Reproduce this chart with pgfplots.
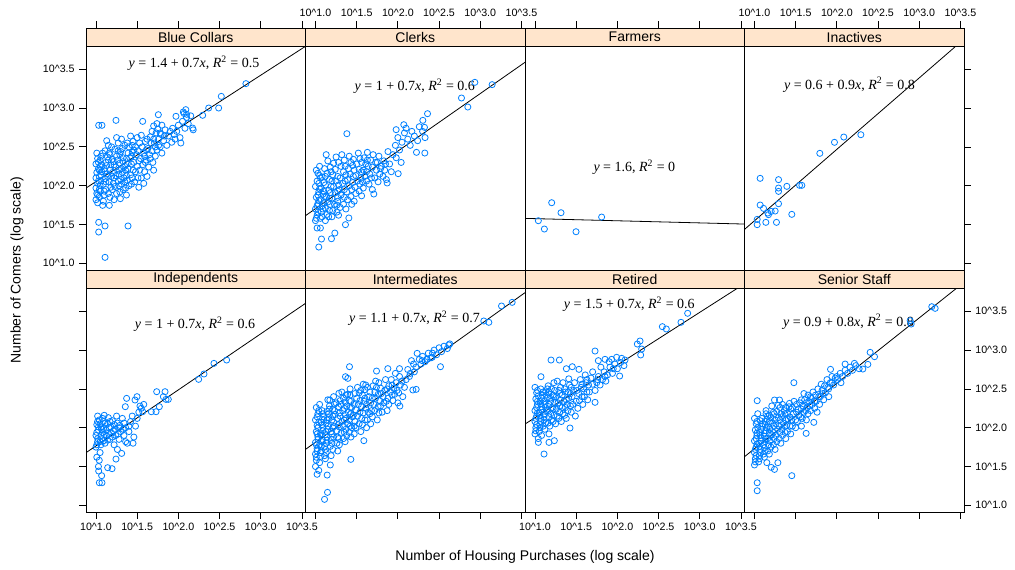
\documentclass[border=0pt]{standalone}
\usepackage{fontspec}
\setmainfont{Liberation Sans}
\newfontfamily\tms{Liberation Serif}
\usepackage{pgfplots}
\pgfplotsset{compat=1.18}
\definecolor{ptcol}{HTML}{0080FF}
\definecolor{stripcol}{HTML}{FFE5CC}

\pgfplotsset{
  common/.style={width=164.625pt, scale only axis, anchor=south west,
    xmin=0.879, xmax=3.543,
    tick align=outside, major tick length=5pt,
    axis line style={line width=0.6pt},
    tick style={black, line width=0.6pt},
    ticklabel style={font=\fontsize{8}{9.5}\selectfont},
    xticklabels={,,,,,}, yticklabels={,,,,,}},
  panel/.style={common, height=168pt, ymin=0.914, ymax=3.80,
    xtick={1,1.5,2,2.5,3,3.5}, ytick={1,1.5,2,2.5,3,3.5}},
  strip/.style={common, height=13.5pt, ymin=0, ymax=1, ytick=\empty, xtick=\empty,
    axis background/.style={fill=stripcol}},
  topticks/.style={xtick={1,1.5,2,2.5,3,3.5}, xtick pos=right, xticklabel pos=right},
  top/.style={xtick=\empty},
  bot/.style={xtick pos=left, xticklabel pos=left},
  noy/.style={ytick=\empty},
  ly/.style={ytick pos=left, yticklabel pos=left},
  ry/.style={ytick pos=right, yticklabel pos=right},
  xlab/.style={xticklabels={10\textasciicircum1.0,10\textasciicircum1.5,10\textasciicircum2.0,10\textasciicircum2.5,10\textasciicircum3.0,10\textasciicircum3.5}},
  ylab/.style={yticklabels={10\textasciicircum1.0,10\textasciicircum1.5,10\textasciicircum2.0,10\textasciicircum2.5,10\textasciicircum3.0,10\textasciicircum3.5}},
  pts/.style={only marks, mark=o, mark size=2.3pt, color=ptcol, mark options={line width=0.6pt}},
  fit/.style={black, line width=0.6pt, no marks},
}
\newcommand{\eq}[1]{\tms\fontsize{10.5}{12}\selectfont #1}
\newcommand{\striplab}[1]{\node[font=\fontsize{10.5}{12}\selectfont, inner sep=0pt] at (axis description cs:0.5,0.5) {#1};}

\begin{document}
\begin{tikzpicture}
\useasboundingbox (0,0) rectangle (761.25pt,426.75pt);

% ---- top row ----
\begin{axis}[panel, top, ly, ylab, at={(64.5pt,224.25pt)}]
  \addplot[pts] coordinates {
    (1.00,1.82)(1.01,1.90)(1.00,1.97)(1.02,2.03)(1.00,2.10)(1.01,2.17)(1.03,2.22)(1.00,2.28)(1.02,2.35)(1.01,2.42)
    (1.04,1.86)(1.05,2.00)(1.04,2.12)(1.05,2.25)(1.06,2.38)(1.02,1.78)(1.05,1.93)(1.06,2.06)(1.07,2.18)(1.03,2.30)
    (1.09,1.80)(1.10,1.88)(1.12,1.95)(1.09,2.02)(1.11,2.09)(1.13,2.15)(1.10,2.22)(1.12,2.30)(1.14,2.37)(1.11,2.45)
    (1.15,2.52)(1.17,1.85)(1.18,1.98)(1.16,2.05)(1.19,2.12)(1.17,2.20)(1.18,2.27)(1.20,2.34)(1.16,2.42)(1.19,2.50)(1.13,2.58)
    (1.22,1.82)(1.25,1.90)(1.23,1.99)(1.27,2.06)(1.24,2.13)(1.28,2.20)(1.22,2.27)(1.26,2.33)(1.29,2.40)(1.23,2.47)
    (1.27,2.55)(1.31,2.60)(1.33,1.95)(1.31,2.02)(1.34,2.10)(1.32,2.17)(1.35,2.25)(1.33,2.31)(1.30,2.44)(1.35,2.52)(1.25,2.62)
    (1.37,1.88)(1.40,2.00)(1.38,2.07)(1.42,2.14)(1.39,2.22)(1.43,2.28)(1.41,2.36)(1.44,2.43)(1.40,2.50)(1.45,2.57)
    (1.42,2.64)(1.47,2.05)(1.48,2.18)(1.46,2.30)(1.49,2.40)(1.48,2.50)(1.50,2.62)
    (1.52,1.98)(1.55,2.10)(1.53,2.20)(1.57,2.27)(1.54,2.35)(1.58,2.42)(1.56,2.50)(1.60,2.57)(1.55,2.65)(1.62,2.12)
    (1.64,2.24)(1.61,2.33)(1.65,2.40)(1.63,2.48)(1.67,2.55)(1.66,2.63)(1.69,2.30)(1.68,2.70)(1.58,2.03)
    (1.72,2.38)(1.74,2.46)(1.71,2.55)(1.76,2.60)(1.73,2.68)(1.78,2.50)(1.80,2.42)(1.82,2.58)(1.79,2.66)(1.84,2.72)
    (1.86,2.52)(1.88,2.64)(1.75,2.73)(1.70,2.20)(1.70,2.77)(1.74,2.80)(1.80,2.78)
    (1.92,2.56)(1.95,2.66)(1.93,2.74)(1.98,2.70)(2.02,2.62)(2.00,2.78)(2.05,2.83)(2.08,2.74)(2.10,2.88)(2.07,2.93)
    (2.12,2.80)(2.15,2.90)(2.03,2.55)(2.18,2.72)(2.06,2.95)(2.09,2.98)(2.10,2.92)
    (1.02,1.88)(1.04,1.95)(1.03,2.06)(1.06,2.14)(1.04,2.20)(1.07,2.27)(1.05,2.33)(1.08,2.42)(1.10,1.93)(1.12,2.05)
    (1.14,2.12)(1.11,2.19)(1.13,2.26)(1.15,2.33)(1.17,2.40)(1.15,1.90)(1.20,1.95)(1.21,2.03)(1.22,2.10)(1.20,2.17)
    (1.24,2.24)(1.21,2.31)(1.25,2.38)(1.27,2.45)(1.29,1.92)(1.28,2.00)(1.30,2.08)(1.28,2.15)(1.31,2.22)(1.29,2.29)
    (1.33,2.36)(1.32,2.48)(1.36,1.97)(1.35,2.05)(1.37,2.13)(1.36,2.20)(1.38,2.28)(1.37,2.35)(1.39,2.42)(1.38,2.55)
    (1.43,2.02)(1.44,2.10)(1.45,2.20)(1.43,2.38)(1.46,2.46)(1.44,2.52)(1.51,2.10)(1.50,2.25)(1.52,2.32)(1.51,2.45)
    (1.53,2.55)(1.59,2.18)(1.60,2.30)(1.59,2.38)(1.61,2.46)(1.62,2.60)(1.66,2.35)(1.68,2.45)(1.70,2.60)(1.72,2.50)
    (1.76,2.52)(1.78,2.68)(1.83,2.64)(1.90,2.70)(1.96,2.60)
    (1.033,2.778)(1.073,2.778)(1.243,2.842)(1.567,2.829)(1.757,2.915)(1.971,2.894)(2.173,2.743)(2.295,2.907)
    (2.368,3.001)(2.489,3.001)(2.521,3.151)(2.820,3.315)(1.033,1.528)(1.110,1.481)(1.033,1.403)(1.389,1.481)
    (1.110,1.077)(1.081,1.747)(1.162,1.747)(1.296,1.833)
  };
  \addplot[fit] coordinates {(0.879,1.970)(3.543,3.796)};
  \node at (axis cs:2.19,3.58) {\eq{\textit{y} = 1.4 + 0.7\textit{x}, \textit{R}\textsuperscript{2} = 0.5}};
\end{axis}

\begin{axis}[panel, top, noy, at={(229.125pt,224.25pt)}]
  \addplot[pts] coordinates {
    (1.00,1.55)(1.02,1.62)(1.00,1.70)(1.03,1.77)(1.01,1.85)(1.04,1.92)(1.00,1.99)(1.02,2.06)(1.05,2.13)(1.01,2.20)
    (1.06,1.58)(1.07,1.66)(1.08,1.74)(1.06,1.82)(1.09,1.89)(1.07,1.97)(1.10,2.04)(1.08,2.11)(1.05,2.25)
    (1.12,1.55)(1.14,1.63)(1.12,1.71)(1.15,1.79)(1.13,1.86)(1.16,1.94)(1.12,2.01)(1.17,2.08)(1.14,2.16)(1.18,2.24)
    (1.15,2.32)(1.13,2.40)(1.20,1.60)(1.21,1.68)(1.23,1.76)(1.20,1.84)(1.24,1.91)(1.22,1.99)(1.25,2.06)(1.21,2.14)
    (1.24,2.21)(1.22,2.29)(1.25,2.37)
    (1.28,1.62)(1.30,1.72)(1.27,1.80)(1.31,1.88)(1.29,1.95)(1.33,2.03)(1.30,2.10)(1.34,2.18)(1.31,2.25)(1.35,2.33)
    (1.32,2.40)(1.37,1.70)(1.39,1.82)(1.38,1.92)(1.41,2.00)(1.39,2.08)(1.42,2.15)(1.40,2.22)(1.43,2.30)(1.41,2.38)
    (1.44,1.76)(1.45,2.26)
    (1.47,1.80)(1.49,1.90)(1.48,1.98)(1.51,2.06)(1.49,2.13)(1.53,2.21)(1.50,2.28)(1.54,2.35)(1.52,2.42)(1.56,1.87)
    (1.58,1.97)(1.57,2.05)(1.60,2.12)(1.58,2.20)(1.61,2.28)(1.59,2.36)(1.63,2.43)(1.65,2.02)(1.66,2.15)(1.64,2.25)
    (1.67,2.33)(1.69,1.95)(1.70,2.40)
    (1.72,2.10)(1.74,2.20)(1.73,2.30)(1.76,2.05)(1.78,2.15)(1.80,2.25)(1.77,2.38)(1.82,2.12)(1.84,2.20)(1.86,2.08)
    (1.83,2.32)(1.88,2.44)(1.90,2.28)(1.92,2.18)(1.94,2.40)
    (1.97,2.52)(2.00,2.62)(2.02,2.46)(2.05,2.56)(2.08,2.68)(2.10,2.74)(2.12,2.60)(2.15,2.52)(2.17,2.70)(2.20,2.64)
    (2.24,2.58)(2.26,2.76)(2.30,2.70)(2.33,2.62)(1.98,2.36)(2.04,2.30)
    (1.01,1.58)(1.03,1.66)(1.02,1.74)(1.04,1.81)(1.03,1.88)(1.05,1.96)(1.04,2.03)(1.06,2.10)(1.03,2.16)(1.08,1.60)
    (1.09,1.70)(1.10,1.78)(1.11,1.86)(1.10,1.93)(1.12,2.12)(1.11,2.22)(1.16,1.60)(1.17,1.68)(1.18,1.76)(1.17,1.84)
    (1.18,1.91)(1.19,1.99)(1.20,2.06)(1.19,2.18)(1.26,1.66)(1.26,1.75)(1.27,1.85)(1.27,1.93)(1.28,2.01)(1.27,2.12)
    (1.28,2.30)(1.34,1.76)(1.35,1.85)(1.35,1.95)(1.36,2.06)(1.37,2.14)(1.36,2.25)(1.43,1.86)(1.44,1.95)(1.45,2.04)
    (1.46,2.12)(1.47,2.20)(1.46,2.34)(1.53,1.93)(1.54,2.02)(1.55,2.10)(1.56,2.18)(1.56,2.30)(1.62,2.06)(1.62,2.18)
    (1.63,2.33)(1.68,2.10)(1.69,2.24)(1.75,2.30)(1.79,2.22)(1.85,2.28)
    (1.381,2.670)(2.934,3.332)(3.144,3.302)(2.772,3.130)(2.849,3.014)(2.360,2.928)(2.303,2.842)(2.323,2.752)
    (2.072,2.786)(1.979,2.722)(2.226,2.430)(2.327,2.421)(2.004,2.155)(1.870,2.035)(1.708,1.893)
    (1.040,1.210)(1.073,1.313)(1.194,1.317)(1.020,1.455)(1.060,1.455)(1.235,1.390)(1.364,1.498)(1.405,1.584)
  };
  \addplot[fit] coordinates {(0.879,1.614)(3.543,3.590)};
  \node at (axis cs:2.206,3.28) {\eq{\textit{y} = 1 + 0.7\textit{x}, \textit{R}\textsuperscript{2} = 0.6}};
\end{axis}

\begin{axis}[panel, top, noy, at={(393.75pt,224.25pt)}]
  \addplot[pts] coordinates {
    (1.041,1.549)(1.203,1.781)(1.316,1.652)(1.114,1.442)(1.498,1.407)(1.809,1.596)
  };
  \addplot[fit] coordinates {(0.879,1.579)(3.543,1.506)};
  \node at (axis cs:2.206,2.236) {\eq{\textit{y} = 1.6, \textit{R}\textsuperscript{2} = 0}};
\end{axis}

\begin{axis}[panel, top, ry, at={(558.375pt,224.25pt)}]
  \addplot[pts] coordinates {
    (1.069,2.095)(1.292,2.078)(1.292,1.970)(1.292,1.927)(1.393,1.992)(1.547,2.005)(1.575,2.005)(1.793,2.417)
    (1.971,2.559)(2.084,2.627)(2.291,2.657)(1.069,1.751)(1.110,1.708)(1.203,1.669)(1.162,1.648)(1.170,1.627)
    (1.251,1.674)(1.292,1.768)(1.453,1.631)(1.033,1.566)(1.033,1.498)(1.138,1.528)(1.267,1.528)
  };
  \addplot[fit] coordinates {(0.879,1.437)(3.543,3.889)};
  \node at (axis cs:2.153,3.302) {\eq{\textit{y} = 0.6 + 0.9\textit{x}, \textit{R}\textsuperscript{2} = 0.8}};
\end{axis}

% ---- bottom row ----
\begin{axis}[panel, bot, xlab, ly, at={(64.5pt,42.75pt)}]
  \addplot[pts] coordinates {
    (1.00,1.75)(1.02,1.82)(1.00,1.90)(1.03,1.97)(1.01,2.04)(1.04,2.10)(1.02,2.15)(1.06,1.78)(1.07,1.86)(1.08,1.94)
    (1.06,2.01)(1.09,2.08)(1.05,1.68)(1.01,1.62)(1.11,1.80)(1.13,1.89)(1.12,1.97)(1.14,2.05)(1.15,2.13)(1.17,1.85)
    (1.19,1.93)(1.18,2.01)(1.20,2.09)(1.22,1.78)(1.24,1.90)(1.23,1.98)(1.26,2.06)(1.28,1.85)(1.30,1.95)(1.29,2.03)
    (1.32,2.12)(1.34,1.90)(1.36,2.00)(1.38,1.80)(1.40,1.95)(1.42,2.08)(1.44,2.15)(1.46,1.88)(1.48,2.02)(1.50,2.12)
    (1.52,2.20)(1.55,2.25)(1.58,2.30)(1.25,2.15)(1.10,2.16)(1.04,1.58)(1.03,1.50)(1.36,1.82)(1.26,1.72)(1.45,1.80)
    (1.01,1.78)(1.02,1.86)(1.01,1.94)(1.03,2.01)(1.02,2.08)(1.05,1.82)(1.06,1.90)(1.07,1.98)(1.05,2.05)(1.08,2.12)
    (1.09,1.83)(1.10,1.91)(1.09,1.99)(1.11,2.06)(1.14,1.84)(1.15,1.93)(1.16,2.00)(1.17,2.08)(1.20,1.88)(1.21,1.96)
    (1.22,2.04)(1.27,1.92)(1.28,2.00)(1.33,1.98)(1.34,2.06)(1.40,2.02)
    (2.586,2.872)(2.432,2.829)(2.311,2.692)(2.246,2.623)(1.737,2.464)(1.838,2.464)(1.818,2.400)(1.850,2.365)
    (1.878,2.365)(1.769,2.271)(1.672,2.206)(1.729,2.206)(1.567,2.206)(1.534,2.279)(1.498,2.400)(1.474,2.357)
    (1.372,2.378)(1.356,2.271)(1.041,1.291)(1.073,1.291)(1.069,1.382)(1.033,1.442)(1.142,1.485)(1.195,1.472)
    (1.243,1.596)(1.312,1.669)
  };
  \addplot[fit] coordinates {(0.879,1.678)(3.543,3.602)};
  \node at (axis cs:2.202,3.332) {\eq{\textit{y} = 1 + 0.7\textit{x}, \textit{R}\textsuperscript{2} = 0.6}};
\end{axis}

\begin{axis}[panel, bot, noy, at={(229.125pt,42.75pt)}]
  \addplot[pts] coordinates {
    (1.00,1.50)(1.01,1.58)(1.00,1.66)(1.02,1.73)(1.00,1.81)(1.03,1.88)(1.01,1.95)(1.02,2.03)(1.00,2.10)(1.03,2.18)
    (1.01,2.26)(1.05,1.55)(1.06,1.63)(1.07,1.70)(1.05,1.78)(1.08,1.85)(1.06,1.92)(1.09,2.00)(1.07,2.07)(1.10,2.14)
    (1.08,2.22)(1.05,2.30)(1.04,1.45)(1.02,1.40)
    (1.12,1.60)(1.13,1.68)(1.11,1.76)(1.14,1.84)(1.12,1.91)(1.15,1.98)(1.13,2.06)(1.16,2.13)(1.14,2.21)(1.17,2.28)
    (1.15,2.36)(1.19,1.64)(1.21,1.72)(1.20,1.80)(1.22,1.88)(1.19,1.95)(1.23,2.02)(1.20,2.10)(1.24,2.17)(1.21,2.24)
    (1.25,2.32)(1.22,2.40)(1.18,1.52)
    (1.27,1.70)(1.29,1.78)(1.28,1.86)(1.31,1.93)(1.29,2.01)(1.32,2.08)(1.30,2.15)(1.33,2.22)(1.31,2.30)(1.34,2.38)
    (1.32,2.46)(1.36,1.82)(1.38,1.90)(1.37,1.98)(1.39,2.05)(1.37,2.12)(1.40,2.20)(1.38,2.28)(1.41,2.35)(1.39,2.43)
    (1.42,2.50)(1.43,1.88)(1.44,2.00)(1.45,2.14)(1.44,2.26)
    (1.47,1.92)(1.49,2.00)(1.48,2.08)(1.51,2.15)(1.49,2.23)(1.52,2.30)(1.50,2.38)(1.53,2.45)(1.51,2.52)(1.55,1.95)
    (1.57,2.04)(1.56,2.12)(1.58,2.19)(1.56,2.27)(1.59,2.34)(1.57,2.42)(1.60,2.49)(1.58,2.56)(1.62,2.00)(1.63,2.10)
    (1.64,2.20)(1.62,2.30)(1.65,2.40)(1.63,2.52)
    (1.67,2.05)(1.69,2.14)(1.68,2.22)(1.71,2.30)(1.69,2.38)(1.72,2.46)(1.70,2.54)(1.73,2.60)(1.75,2.10)(1.77,2.19)
    (1.76,2.27)(1.78,2.35)(1.76,2.43)(1.79,2.51)(1.77,2.58)(1.81,2.20)(1.83,2.32)(1.82,2.40)(1.84,2.48)(1.85,2.62)
    (1.87,2.22)(1.89,2.30)(1.88,2.38)(1.91,2.46)(1.89,2.54)(1.92,2.62)(1.94,2.35)(1.96,2.43)(1.95,2.51)(1.98,2.58)
    (2.00,2.32)(2.01,2.45)(2.03,2.55)(2.02,2.66)(1.97,2.70)
    (2.08,2.52)(2.10,2.62)(2.12,2.75)(2.15,2.70)(2.19,2.82)(2.22,2.78)(2.26,2.88)(2.30,2.92)(2.33,2.85)(2.37,2.96)
    (2.40,2.90)(2.44,3.00)(2.47,2.94)(2.50,3.03)(2.53,2.98)(2.56,3.05)(2.60,3.02)(2.63,3.08)(2.06,2.40)
    (1.01,1.62)(1.02,1.70)(1.01,1.78)(1.03,1.85)(1.02,1.92)(1.03,2.00)(1.04,2.07)(1.02,2.14)(1.04,2.22)(1.06,1.68)
    (1.07,1.76)(1.08,1.82)(1.07,1.90)(1.09,1.96)(1.08,2.04)(1.10,2.10)(1.09,2.18)(1.11,1.64)(1.12,1.72)(1.13,1.80)
    (1.14,1.88)(1.13,1.95)(1.15,2.02)(1.14,2.10)(1.16,2.18)(1.17,2.24)(1.18,1.76)(1.19,1.85)(1.20,1.92)(1.21,2.00)
    (1.22,2.07)(1.21,2.15)(1.23,2.22)(1.23,2.30)(1.26,1.80)(1.27,1.88)(1.26,1.96)(1.28,2.04)(1.27,2.12)(1.29,2.19)
    (1.28,2.27)(1.30,2.35)(1.34,1.86)(1.35,1.94)(1.34,2.02)(1.35,2.10)(1.36,2.17)(1.35,2.25)(1.36,2.33)(1.37,2.42)
    (1.41,1.94)(1.42,2.02)(1.41,2.10)(1.43,2.18)(1.42,2.26)(1.43,2.34)(1.42,2.42)(1.47,2.02)(1.46,2.16)(1.47,2.30)
    (1.48,2.44)(1.53,2.05)(1.54,2.20)(1.54,2.35)(1.55,2.48)(1.60,2.10)(1.61,2.25)(1.60,2.38)(1.61,2.55)(1.66,2.18)
    (1.67,2.32)(1.66,2.46)(1.72,2.22)(1.73,2.38)(1.74,2.52)(1.79,2.28)(1.80,2.44)(1.86,2.34)(1.87,2.50)(1.93,2.42)
    (1.93,2.55)(1.99,2.48)(2.05,2.60)(2.14,2.66)(2.20,2.72)(2.28,2.82)(2.35,2.88)(2.42,2.96)
    (3.387,3.615)(3.258,3.568)(3.104,3.358)(3.043,3.375)(2.619,3.066)(2.517,2.786)(2.234,2.958)(2.165,2.864)
    (2.295,2.864)(2.355,2.881)(2.416,2.907)(2.020,2.761)(1.878,2.761)(1.741,2.730)(1.413,2.786)(1.364,2.657)
    (1.393,2.636)(1.284,2.443)(1.174,2.357)(2.182,2.486)(2.222,2.494)(2.024,2.279)(1.587,1.833)(1.429,1.592)
    (1.142,1.390)(1.146,1.167)(1.110,1.077)
  };
  \addplot[fit] coordinates {(0.879,1.721)(3.543,3.740)};
  \node at (axis cs:2.202,3.409) {\eq{\textit{y} = 1.1 + 0.7\textit{x}, \textit{R}\textsuperscript{2} = 0.7}};
\end{axis}

\begin{axis}[panel, bot, xlab, noy, at={(393.75pt,42.75pt)}]
  \addplot[pts] coordinates {
    (1.00,1.92)(1.01,2.00)(1.00,2.08)(1.02,2.15)(1.00,2.22)(1.03,2.30)(1.01,2.37)(1.02,2.45)(1.00,2.52)(1.05,1.95)
    (1.06,2.04)(1.07,2.12)(1.05,2.19)(1.08,2.27)(1.06,2.34)(1.09,2.42)(1.07,2.50)(1.04,1.86)(1.08,1.90)
    (1.12,1.98)(1.13,2.06)(1.11,2.14)(1.14,2.22)(1.12,2.30)(1.15,2.38)(1.13,2.46)(1.16,2.54)(1.18,2.02)(1.20,2.10)
    (1.19,2.18)(1.21,2.26)(1.19,2.34)(1.22,2.42)(1.20,2.50)(1.23,2.58)(1.25,2.05)(1.27,2.15)(1.26,2.24)(1.28,2.32)
    (1.26,2.40)(1.29,2.48)(1.27,2.60)(1.17,1.92)
    (1.32,2.08)(1.34,2.18)(1.33,2.26)(1.35,2.34)(1.33,2.42)(1.36,2.50)(1.34,2.58)(1.38,2.12)(1.40,2.22)(1.39,2.30)
    (1.41,2.38)(1.40,2.46)(1.42,2.55)(1.41,2.63)(1.44,2.20)(1.46,2.30)(1.45,2.40)(1.47,2.48)(1.48,2.58)(1.49,2.15)
    (1.52,2.25)(1.54,2.35)(1.53,2.44)(1.56,2.52)(1.55,2.62)(1.58,2.30)(1.60,2.40)(1.59,2.50)(1.62,2.58)(1.61,2.68)
    (1.64,2.36)(1.66,2.46)(1.65,2.55)(1.68,2.64)(1.70,2.72)
    (1.73,2.48)(1.75,2.58)(1.77,2.66)(1.79,2.55)(1.82,2.62)(1.84,2.72)(1.86,2.60)(1.88,2.68)(1.91,2.78)(1.94,2.70)
    (1.97,2.82)(2.00,2.76)(2.04,2.84)(2.08,2.80)(1.80,2.78)(1.90,2.85)
    (1.01,1.96)(1.02,2.04)(1.01,2.12)(1.03,2.19)(1.02,2.26)(1.03,2.34)(1.04,2.41)(1.03,2.48)(1.06,2.00)(1.07,2.08)
    (1.06,2.16)(1.08,2.23)(1.07,2.31)(1.08,2.38)(1.10,2.46)(1.10,2.02)(1.11,2.10)(1.12,2.18)(1.13,2.26)(1.11,2.34)
    (1.14,2.42)(1.15,2.50)(1.16,2.06)(1.17,2.14)(1.16,2.22)(1.17,2.30)(1.18,2.38)(1.17,2.46)(1.22,2.08)(1.23,2.16)
    (1.22,2.24)(1.24,2.32)(1.23,2.40)(1.24,2.48)(1.29,2.12)(1.30,2.20)(1.30,2.28)(1.31,2.36)(1.30,2.44)(1.31,2.52)
    (1.36,2.16)(1.37,2.26)(1.38,2.36)(1.37,2.46)(1.43,2.28)(1.43,2.44)(1.44,2.52)(1.50,2.34)(1.51,2.48)(1.57,2.40)
    (1.57,2.56)(1.63,2.46)(1.63,2.62)(1.70,2.56)(1.76,2.62)(1.85,2.66)(1.95,2.76)
    (2.853,3.474)(2.772,3.358)(2.546,3.302)(2.594,3.272)(2.275,3.117)(2.242,3.078)(2.295,3.014)(2.283,2.937)
    (2.028,2.666)(1.729,2.988)(1.195,2.872)(1.296,2.872)(1.381,2.760)(1.453,2.786)(1.534,2.752)(1.073,2.657)
    (1.110,1.661)(1.170,1.811)(1.235,1.833)(1.041,1.811)(1.425,1.996)(1.729,2.327)
    (1.769,2.864)(1.850,2.881)(1.931,2.881)(1.991,2.907)(2.052,2.894)(2.093,2.872)
  };
  \addplot[fit] coordinates {(0.879,2.047)(3.543,3.855)};
  \node at (axis cs:2.145,3.594) {\eq{\textit{y} = 1.5 + 0.7\textit{x}, \textit{R}\textsuperscript{2} = 0.6}};
\end{axis}

\begin{axis}[panel, bot, ry, ylab, at={(558.375pt,42.75pt)}]
  \addplot[pts] coordinates {
    (1.00,1.52)(1.01,1.60)(1.00,1.68)(1.02,1.75)(1.00,1.83)(1.03,1.90)(1.01,1.97)(1.02,2.05)(1.00,2.12)(1.05,1.56)
    (1.06,1.64)(1.07,1.72)(1.05,1.80)(1.08,1.87)(1.06,1.94)(1.09,2.02)(1.07,2.09)(1.04,2.18)
    (1.12,1.62)(1.13,1.70)(1.11,1.78)(1.14,1.86)(1.12,1.93)(1.15,2.00)(1.13,2.08)(1.16,2.15)(1.14,2.22)(1.18,1.66)
    (1.20,1.75)(1.19,1.83)(1.21,1.91)(1.19,1.98)(1.22,2.06)(1.20,2.13)(1.23,2.20)(1.21,2.28)(1.25,1.72)(1.27,1.82)
    (1.26,1.90)(1.28,1.98)(1.26,2.05)(1.29,2.13)(1.27,2.21)(1.29,2.29)(1.15,1.55)
    (1.32,1.80)(1.34,1.90)(1.33,1.98)(1.35,2.06)(1.33,2.14)(1.36,2.22)(1.34,2.30)(1.38,1.86)(1.40,1.95)(1.39,2.03)
    (1.41,2.11)(1.40,2.19)(1.42,2.27)(1.44,1.92)(1.46,2.02)(1.45,2.10)(1.47,2.18)(1.46,2.26)(1.48,2.34)(1.50,2.00)
    (1.52,2.08)(1.54,2.16)(1.53,2.24)(1.55,2.32)(1.57,2.02)(1.58,2.12)(1.60,2.20)(1.59,2.28)(1.61,2.36)(1.60,2.44)
    (1.63,2.10)(1.65,2.18)(1.64,2.26)(1.66,2.34)(1.65,2.42)(1.68,2.22)(1.70,2.30)(1.69,2.38)(1.71,2.46)
    (1.73,2.25)(1.75,2.34)(1.74,2.42)(1.77,2.50)(1.79,2.30)(1.80,2.40)(1.82,2.48)(1.81,2.56)(1.84,2.36)(1.86,2.45)
    (1.85,2.54)(1.88,2.62)(1.90,2.50)(1.92,2.58)(1.94,2.66)(1.96,2.55)(1.98,2.64)(1.76,2.20)
    (2.01,2.62)(2.04,2.70)(2.07,2.66)(2.10,2.74)(2.13,2.70)(2.16,2.78)(2.19,2.74)(2.23,2.80)(2.27,2.76)(2.05,2.58)(2.10,2.82)
    (1.01,1.56)(1.02,1.64)(1.01,1.72)(1.03,1.79)(1.02,1.86)(1.03,1.93)(1.04,2.00)(1.03,2.08)(1.06,1.60)(1.07,1.68)
    (1.06,1.76)(1.08,1.83)(1.07,1.90)(1.08,1.98)(1.10,2.05)(1.09,2.12)(1.11,1.66)(1.12,1.74)(1.13,1.82)(1.12,1.89)
    (1.14,1.96)(1.13,2.04)(1.15,2.11)(1.14,2.18)(1.16,1.70)(1.17,1.78)(1.16,1.86)(1.18,1.93)(1.17,2.01)(1.18,2.08)
    (1.18,2.16)(1.23,1.78)(1.24,1.86)(1.23,1.94)(1.24,2.02)(1.25,2.10)(1.24,2.18)(1.30,1.86)(1.31,1.94)(1.30,2.02)
    (1.31,2.10)(1.32,2.18)(1.31,2.26)(1.37,1.94)(1.37,2.02)(1.38,2.10)(1.37,2.18)(1.38,2.26)(1.43,2.02)(1.43,2.14)
    (1.44,2.24)(1.50,2.10)(1.51,2.20)(1.51,2.30)(1.56,2.14)(1.57,2.24)(1.57,2.36)(1.62,2.22)(1.63,2.32)(1.67,2.28)
    (1.68,2.40)(1.73,2.34)(1.78,2.40)(1.83,2.44)(1.89,2.52)(1.94,2.58)(2.00,2.66)
    (3.152,3.559)(3.193,3.538)(2.902,3.336)(2.890,3.379)(2.404,2.971)(2.457,2.915)(2.376,2.816)(2.315,2.756)
    (2.213,2.829)(1.923,2.752)(1.478,2.580)(1.033,2.348)(1.243,2.357)(1.304,2.357)(1.425,2.314)(1.902,2.400)
    (1.720,2.069)(1.627,1.927)(1.284,1.549)(1.453,1.382)(1.033,1.291)(1.033,1.188)(1.203,1.489)(1.243,1.463)
  };
  \addplot[fit] coordinates {(0.879,1.627)(3.543,3.873)};
  \node at (axis cs:2.141,3.366) {\eq{\textit{y} = 0.9 + 0.8\textit{x}, \textit{R}\textsuperscript{2} = 0.8}};
\end{axis}

% ---- strips (top row carries the top x axis) ----
\begin{axis}[strip, topticks, at={(64.5pt,392.25pt)}]\striplab{Blue Collars}\end{axis}
\begin{axis}[strip, topticks, xlab, at={(229.125pt,392.25pt)}]\striplab{Clerks}\end{axis}
\begin{axis}[strip, topticks, at={(393.75pt,392.25pt)}]\striplab{Farmers}\end{axis}
\begin{axis}[strip, topticks, xlab, at={(558.375pt,392.25pt)}]\striplab{Inactives}\end{axis}
\begin{axis}[strip, at={(64.5pt,210.75pt)}]\striplab{Independents}\end{axis}
\begin{axis}[strip, at={(229.125pt,210.75pt)}]\striplab{Intermediates}\end{axis}
\begin{axis}[strip, at={(393.75pt,210.75pt)}]\striplab{Retired}\end{axis}
\begin{axis}[strip, at={(558.375pt,210.75pt)}]\striplab{Senior Staff}\end{axis}

% ---- axis titles ----
\node[font=\fontsize{10.5}{12}\selectfont] at (393.75pt,9pt) {Number of Housing Purchases (log scale)};
\node[font=\fontsize{10.5}{12}\selectfont, rotate=90] at (12.75pt,224.25pt) {Number of Comers (log scale)};
\end{tikzpicture}
\end{document}
